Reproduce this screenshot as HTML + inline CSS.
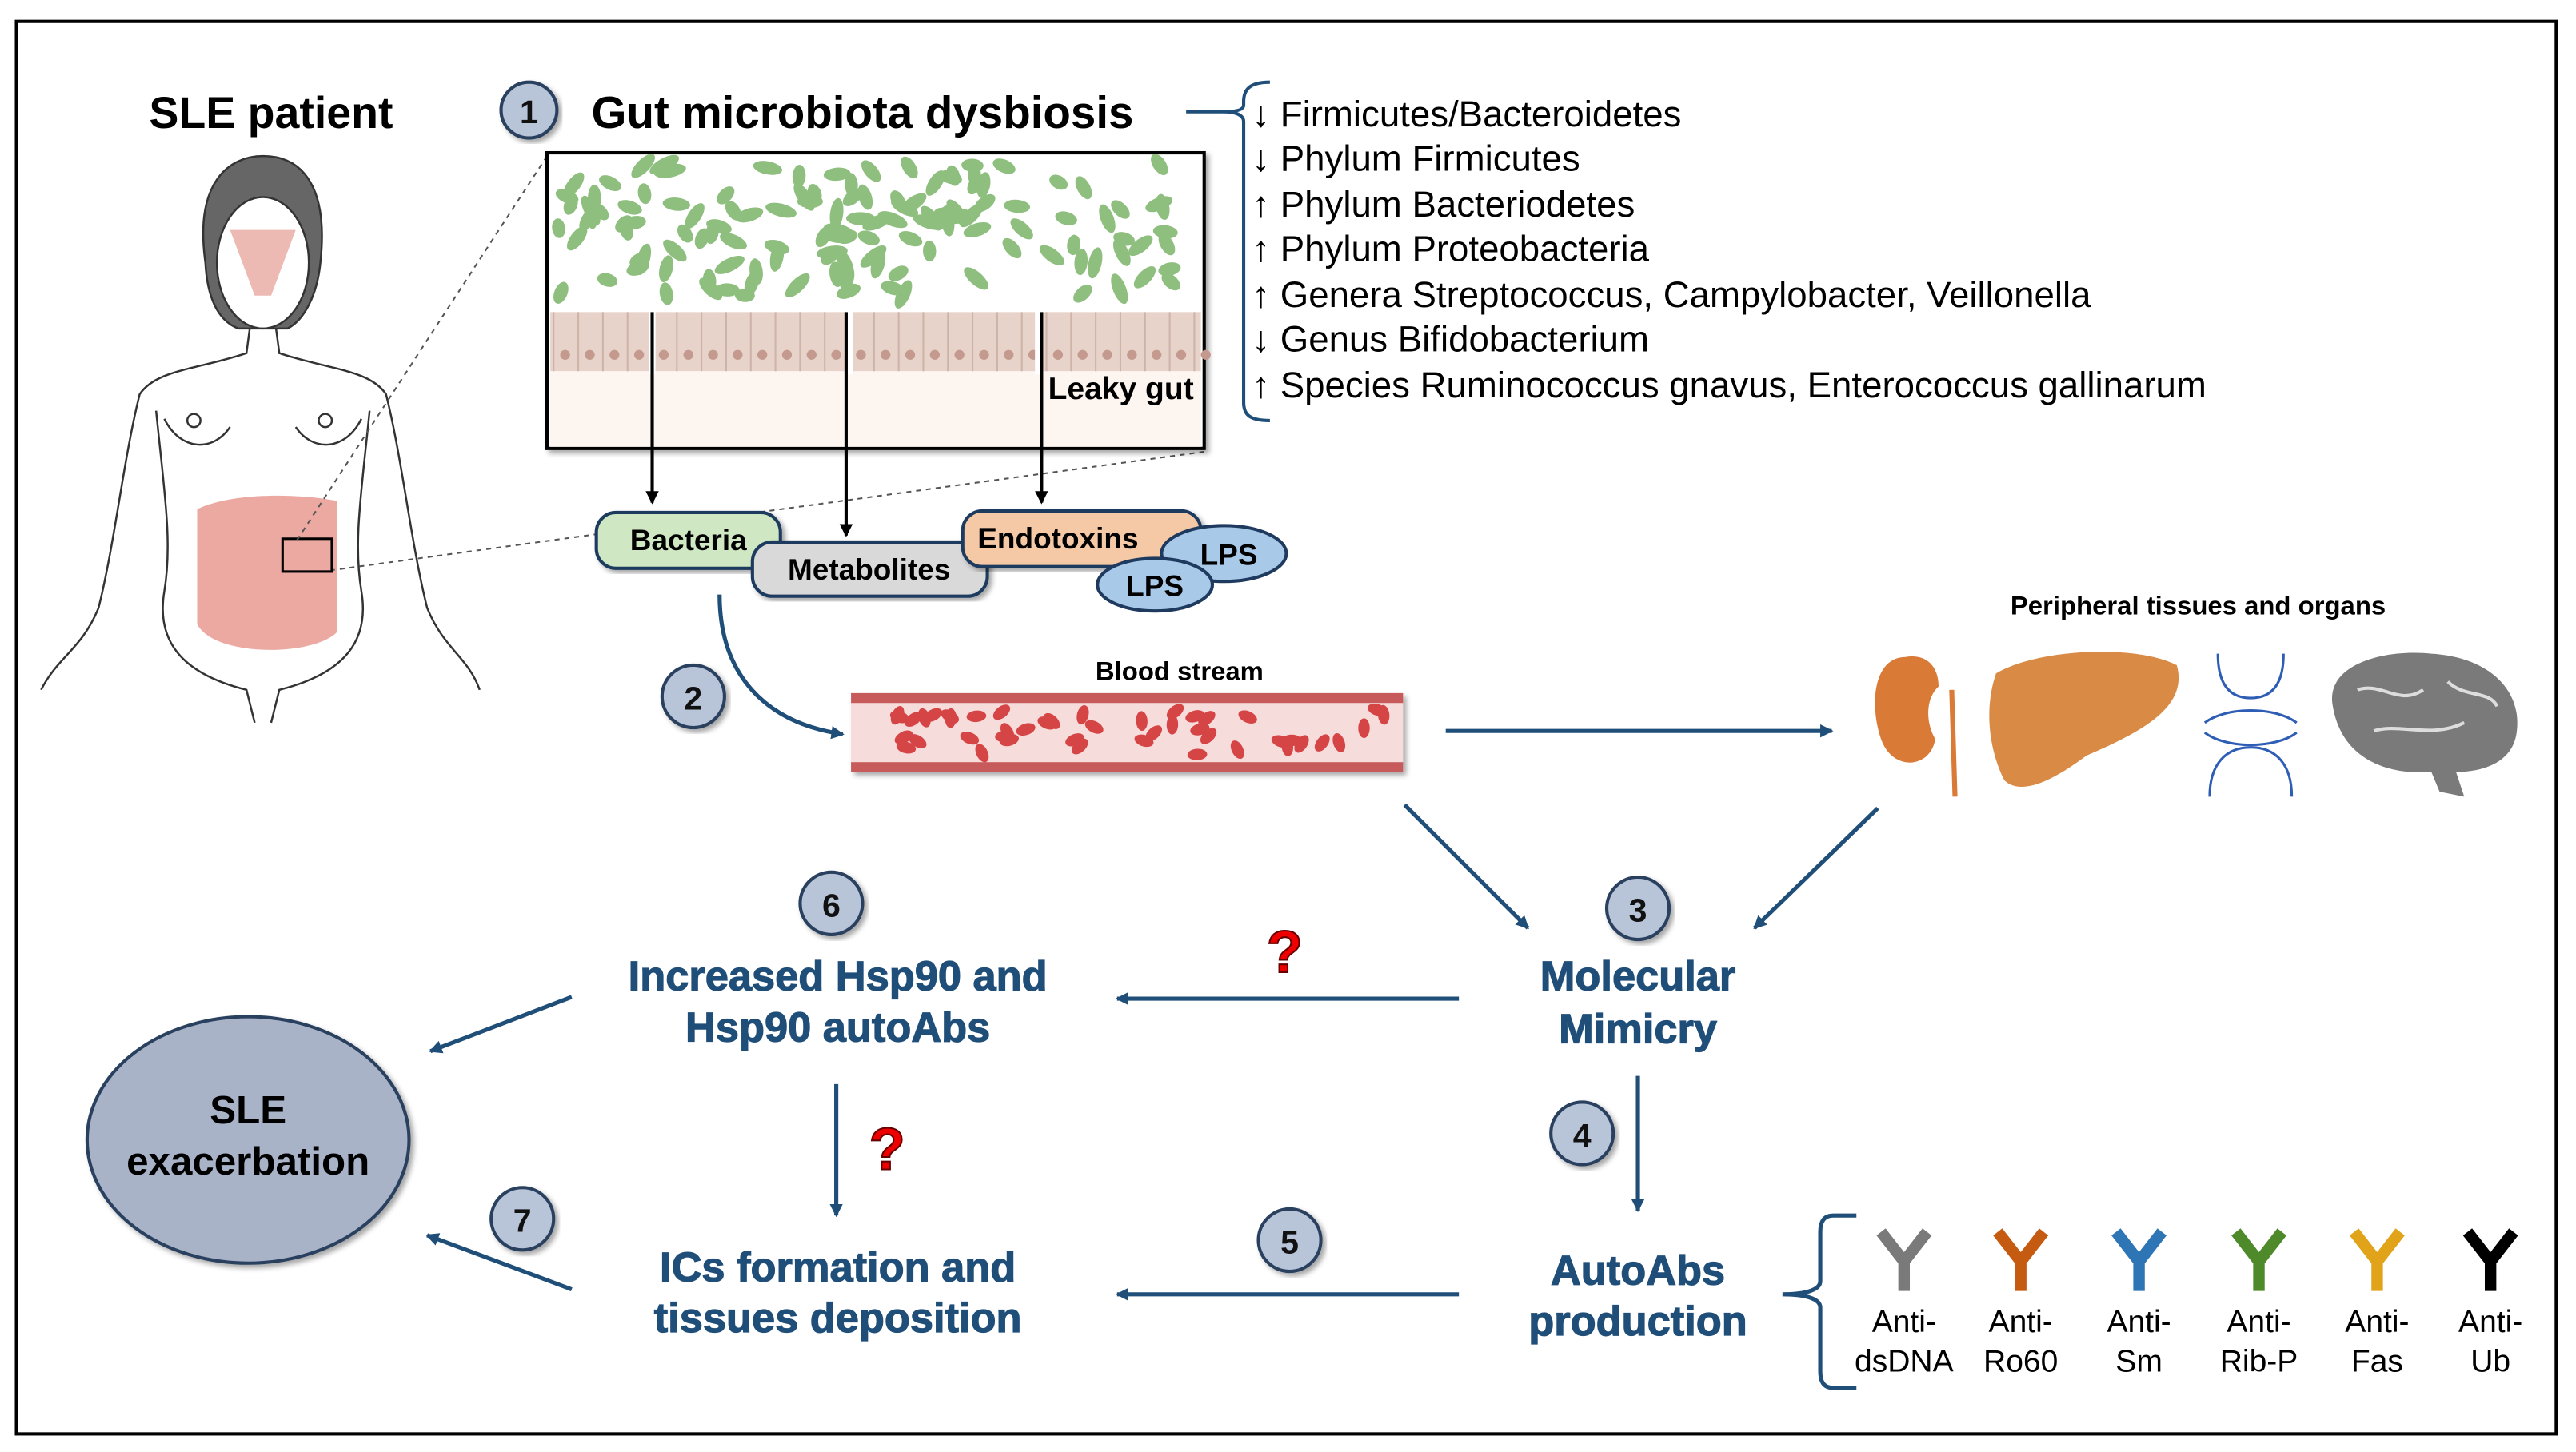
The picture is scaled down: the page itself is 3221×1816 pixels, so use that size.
<!DOCTYPE html>
<html><head><meta charset="utf-8"><style>
html,body{margin:0;padding:0;background:#fff}
svg{display:block}
text{font-family:"Liberation Sans",sans-serif}
.b{font-weight:bold}
.bl{font-weight:900;fill:#1f4e79;font-size:25.5px;text-anchor:middle;stroke:#1f4e79;stroke-width:0.6}
.li{font-size:22.2px}
.n{font-weight:bold;font-size:20px;text-anchor:middle;fill:#111}
</style></head><body>
<svg id="s" width="3221" height="1816" viewBox="0 0 1568 884" preserveAspectRatio="none" xmlns="http://www.w3.org/2000/svg">
<defs>
<marker id="ab" markerWidth="8" markerHeight="8" refX="7" refY="4" orient="auto" markerUnits="userSpaceOnUse"><path d="M0,0 L8,4 L0,8 z" fill="#1f4e79"/></marker>
<marker id="ak" markerWidth="8" markerHeight="8" refX="7" refY="4" orient="auto" markerUnits="userSpaceOnUse"><path d="M0,0 L8,4 L0,8 z" fill="#000"/></marker>
<filter id="sh"><feDropShadow dx="2" dy="2" stdDeviation="1.5" flood-opacity="0.35"/></filter>
</defs>
<rect x="10" y="13" width="1546" height="860" fill="#fff" stroke="#000" stroke-width="2"/>

<!-- SLE patient -->
<text x="165" y="78" class="b" font-size="27" text-anchor="middle">SLE patient</text>
<g fill="none" stroke="#333" stroke-width="1.2">
<path d="M125,160 C118,110 140,95 160,95 C185,95 200,115 195,160 C193,180 185,195 175,200 L145,200 C132,195 126,180 125,160z" fill="#666"/>
<ellipse cx="160" cy="160" rx="28" ry="40" fill="#fff"/>
<path d="M152,200 L150,215 C120,225 95,225 85,240 C75,280 70,330 60,370 C50,395 35,400 25,420 M168,200 L170,215 C200,225 225,225 235,240 C245,280 250,330 260,370 C270,395 285,400 292,420"/>
<path d="M95,250 C100,300 105,330 100,360 C95,390 110,410 150,420 L155,440 M225,250 C220,300 215,330 220,360 C225,390 210,410 170,420 L165,440"/>
<path d="M100,255 C110,275 130,275 140,260 M180,260 C190,275 210,275 220,255"/>
<circle cx="118" cy="256" r="4"/><circle cx="198" cy="256" r="4"/>
</g>
<path d="M140,140 L180,140 L165,180 L155,180 Z" fill="#e8a7a0" opacity="0.8"/>
<path d="M120,310 C140,300 180,300 205,305 L205,385 C190,400 130,400 120,380 Z" fill="#e79a90" opacity="0.85"/>
<rect x="172" y="328" width="30" height="20" fill="none" stroke="#000" stroke-width="1.5"/>
<line x1="333" y1="95" x2="180" y2="330" stroke="#555" stroke-dasharray="3,3"/>
<line x1="733" y1="275" x2="203" y2="347" stroke="#555" stroke-dasharray="3,3"/>

<!-- step 1 -->
<circle cx="322" cy="67" r="17" fill="#b8c4d8" stroke="#2a3f5f" stroke-width="2" filter="url(#sh)"/>
<text x="322" y="75" class="n">1</text>
<text x="360" y="78" class="b" font-size="27.5">Gut microbiota dysbiosis</text>
<path d="M722,68 L745,68 M773,50 C760,50 757,55 757,62 L757,64 C757,67 752,68 745,68 C752,68 757,70 757,74 L757,245 C757,252 760,256 773,256" fill="none" stroke="#1f4e79" stroke-width="2"/>
<g class="li">
<text x="762" y="77">↓ Firmicutes/Bacteroidetes</text>
<text x="762" y="104">↓ Phylum Firmicutes</text>
<text x="762" y="132">↑ Phylum Bacteriodetes</text>
<text x="762" y="159">↑ Phylum Proteobacteria</text>
<text x="762" y="187">↑ Genera Streptococcus, Campylobacter, Veillonella</text>
<text x="762" y="214">↓ Genus Bifidobacterium</text>
<text x="762" y="242">↑ Species Ruminococcus gnavus, Enterococcus gallinarum</text>
</g>

<rect x="333" y="93" width="400" height="180" fill="#fff" stroke="#000" stroke-width="2" filter="url(#sh)"/>
<g id="bact"></g>
<rect x="335" y="190" width="396" height="36" fill="#e8d3ca"/>
<rect x="335" y="226" width="396" height="46" fill="#fdf5f0"/>
<g id="cells"></g>
<rect x="515" y="188" width="4" height="40" fill="#fff"/>
<rect x="630" y="188" width="4" height="40" fill="#fff"/>
<rect x="395" y="188" width="4" height="40" fill="#fff"/>
<text x="638" y="243" class="b" font-size="19">Leaky gut</text>
<g stroke="#000" stroke-width="2" marker-end="url(#ak)">
<line x1="397" y1="190" x2="397" y2="306"/>
<line x1="515" y1="190" x2="515" y2="326"/>
<line x1="634" y1="190" x2="634" y2="306"/>
</g>

<rect x="363" y="312" width="112" height="34" rx="12" fill="#cfe8c3" stroke="#1f3a5f" stroke-width="2" filter="url(#sh)"/>
<text x="419" y="335" class="b" font-size="18" text-anchor="middle">Bacteria</text>
<rect x="458" y="330" width="143" height="33" rx="12" fill="#d9d9d9" stroke="#1f3a5f" stroke-width="2" filter="url(#sh)"/>
<text x="529" y="353" class="b" font-size="18" text-anchor="middle">Metabolites</text>
<rect x="586" y="311" width="145" height="34" rx="12" fill="#f6c9a6" stroke="#1f3a5f" stroke-width="2" filter="url(#sh)"/>
<text x="644" y="334" class="b" font-size="18" text-anchor="middle">Endotoxins</text>
<ellipse cx="745" cy="337" rx="38" ry="17" fill="#a9c9e8" stroke="#1f3a5f" stroke-width="2"/>
<text x="748" y="344" class="b" font-size="18" text-anchor="middle">LPS</text>
<ellipse cx="703" cy="356" rx="35" ry="16" fill="#a9c9e8" stroke="#1f3a5f" stroke-width="2"/>
<text x="703" y="363" class="b" font-size="18" text-anchor="middle">LPS</text>

<!-- step 2 -->
<path d="M438,362 C438,410 465,440 513,447" fill="none" stroke="#1f4e79" stroke-width="2.5" marker-end="url(#ab)"/>
<circle cx="422" cy="424" r="19" fill="#b8c4d8" stroke="#2a3f5f" stroke-width="2" filter="url(#sh)"/>
<text x="422" y="432" class="n">2</text>
<text x="718" y="414" class="b" font-size="16" text-anchor="middle">Blood stream</text>
<rect x="518" y="422" width="336" height="48" fill="#f7dcdc" stroke="none" filter="url(#sh)"/>
<rect x="518" y="422" width="336" height="6" fill="#c75b5b"/>
<rect x="518" y="464" width="336" height="6" fill="#c75b5b"/>
<g id="rbc"></g>
<line x1="880" y1="445" x2="1115" y2="445" stroke="#1f4e79" stroke-width="2.5" marker-end="url(#ab)"/>

<text x="1338" y="374" class="b" font-size="16" text-anchor="middle">Peripheral tissues and organs</text>
<path d="M1160,400 C1140,400 1138,430 1145,450 C1152,470 1175,468 1178,450 C1172,440 1172,425 1180,418 C1180,405 1172,398 1160,400z" fill="#d97a36"/>
<line x1="1188" y1="420" x2="1190" y2="485" stroke="#d97a36" stroke-width="3"/>
<path d="M1215,410 C1240,395 1300,392 1325,405 C1332,430 1305,445 1270,460 C1250,475 1230,485 1220,475 C1210,455 1208,430 1215,410z" fill="#d98a45"/>
<g fill="none" stroke="#2e5db6" stroke-width="1.5">
<path d="M1350,398 C1350,420 1360,425 1370,425 C1380,425 1390,420 1390,398"/>
<path d="M1345,485 C1345,465 1355,455 1370,455 C1385,455 1395,465 1395,485"/>
<path d="M1342,440 C1355,430 1385,430 1398,440 M1342,446 C1355,456 1385,456 1398,446"/>
</g>
<path d="M1420,430 C1415,405 1450,395 1480,398 C1515,400 1535,420 1532,445 C1530,465 1510,470 1495,470 L1500,485 L1485,482 L1480,470 C1450,472 1425,460 1420,430z" fill="#7a7a7a"/>
<path d="M1435,420 C1450,415 1460,430 1475,420 M1445,445 C1460,440 1480,450 1500,440 M1490,415 C1500,425 1515,420 1520,430" fill="none" stroke="#ddd" stroke-width="2"/>

<!-- step 3 -->
<line x1="855" y1="490" x2="930" y2="565" stroke="#1f4e79" stroke-width="2.5" marker-end="url(#ab)"/>
<line x1="1143" y1="492" x2="1068" y2="565" stroke="#1f4e79" stroke-width="2.5" marker-end="url(#ab)"/>
<circle cx="997" cy="553" r="19" fill="#b8c4d8" stroke="#2a3f5f" stroke-width="2" filter="url(#sh)"/>
<text x="997" y="561" class="n">3</text>
<text x="997" y="603" class="bl">Molecular</text>
<text x="997" y="635" class="bl">Mimicry</text>

<line x1="888" y1="608" x2="680" y2="608" stroke="#1f4e79" stroke-width="2.5" marker-end="url(#ab)"/>
<text x="782" y="592" font-size="36" font-weight="900" fill="#e00" stroke="#600" stroke-width="1" text-anchor="middle">?</text>

<circle cx="506" cy="550" r="19" fill="#b8c4d8" stroke="#2a3f5f" stroke-width="2" filter="url(#sh)"/>
<text x="506" y="558" class="n">6</text>
<text x="510" y="603" class="bl">Increased Hsp90 and</text>
<text x="510" y="634" class="bl">Hsp90 autoAbs</text>
<line x1="348" y1="607" x2="262" y2="640" stroke="#1f4e79" stroke-width="2.5" marker-end="url(#ab)"/>

<ellipse cx="151" cy="694" rx="98" ry="75" fill="#a8b3c8" stroke="#2a3f5f" stroke-width="2" filter="url(#sh)"/>
<text x="151" y="684" class="b" font-size="24" text-anchor="middle">SLE</text>
<text x="151" y="715" class="b" font-size="24" text-anchor="middle">exacerbation</text>

<line x1="509" y1="660" x2="509" y2="740" stroke="#1f4e79" stroke-width="2.5" marker-end="url(#ab)"/>
<text x="540" y="712" font-size="36" font-weight="900" fill="#e00" stroke="#600" stroke-width="1" text-anchor="middle">?</text>

<line x1="997" y1="655" x2="997" y2="737" stroke="#1f4e79" stroke-width="2.5" marker-end="url(#ab)"/>
<circle cx="963" cy="690" r="19" fill="#b8c4d8" stroke="#2a3f5f" stroke-width="2" filter="url(#sh)"/>
<text x="963" y="698" class="n">4</text>
<text x="997" y="782" class="bl">AutoAbs</text>
<text x="997" y="813" class="bl">production</text>

<line x1="888" y1="788" x2="680" y2="788" stroke="#1f4e79" stroke-width="2.5" marker-end="url(#ab)"/>
<circle cx="785" cy="755" r="19" fill="#b8c4d8" stroke="#2a3f5f" stroke-width="2" filter="url(#sh)"/>
<text x="785" y="763" class="n">5</text>
<text x="510" y="780" class="bl">ICs formation and</text>
<text x="510" y="811" class="bl">tissues deposition</text>
<line x1="348" y1="785" x2="260" y2="752" stroke="#1f4e79" stroke-width="2.5" marker-end="url(#ab)"/>
<circle cx="318" cy="742" r="19" fill="#b8c4d8" stroke="#2a3f5f" stroke-width="2" filter="url(#sh)"/>
<text x="318" y="750" class="n">7</text>

<path d="M1130,740 L1116,740 C1110,740 1108,744 1108,750 L1108,780 C1108,785 1100,788 1085,788 C1100,788 1108,791 1108,796 L1108,835 C1108,841 1110,845 1116,845 L1130,845" fill="none" stroke="#1f4e79" stroke-width="2.5"/>
<g id="abs"></g>
</svg>
<script>
var NS="http://www.w3.org/2000/svg";
function el(p,t,a){var e=document.createElementNS(NS,t);for(var k in a)e.setAttribute(k,a[k]);p.appendChild(e);return e;}
var seed=7;function r(){seed=(seed*9301+49297)%233280;return seed/233280;}
var g=document.getElementById("bact");
for(var i=0;i<130;i++){var x=340+r()*385,y=100+r()*80,a=r()*180;
el(g,"ellipse",{cx:x,cy:y,rx:6+r()*4,ry:4,fill:"#8fbf7f",transform:"rotate("+a+" "+x+" "+y+")"});}
var c=document.getElementById("cells");
for(var x=337;x<731;x+=15){el(c,"line",{x1:x,y1:190,x2:x,y2:226,stroke:"#cdb3a8","stroke-width":1});el(c,"circle",{cx:x+7,cy:216,r:3,fill:"#c49a8e"});}
var b=document.getElementById("rbc");
for(var i=0;i<45;i++){var x=525+r()*320,y=432+r()*28,a=r()*180;
el(b,"ellipse",{cx:x,cy:y,rx:6,ry:3.5,fill:"#d64545",transform:"rotate("+a+" "+x+" "+y+")"});}
var ab=document.getElementById("abs");
var xs=[1159,1230,1302,1375,1447,1516],cols=["#7a7a7a","#c55a11","#2e75b6","#4e8a2a","#e0a31a","#000"],
l1=["Anti-","Anti-","Anti-","Anti-","Anti-","Anti-"],l2=["dsDNA","Ro60","Sm","Rib-P","Fas","Ub"];
for(var i=0;i<6;i++){var x=xs[i],co=cols[i];
el(ab,"path",{d:"M"+(x-14)+",750 L"+x+",768 L"+(x+14)+",750 M"+x+",768 L"+x+",786",stroke:co,"stroke-width":7,fill:"none","stroke-linejoin":"round"});
var t=el(ab,"text",{x:x,y:811,"font-size":19,"text-anchor":"middle"});t.textContent=l1[i];
t=el(ab,"text",{x:x,y:835,"font-size":19,"text-anchor":"middle"});t.textContent=l2[i];}
</script>
</body></html>
